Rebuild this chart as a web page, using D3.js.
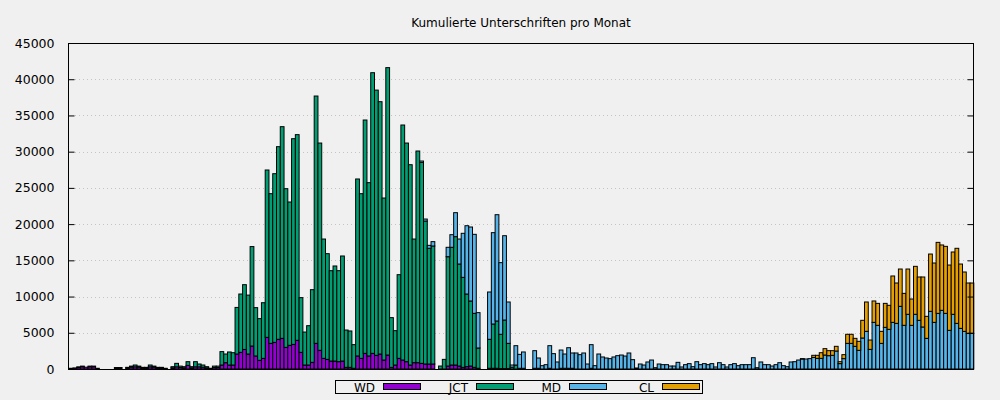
<!DOCTYPE html>
<html><head><meta charset="utf-8">
<script src="https://cdn.jsdelivr.net/npm/d3@7"></script>
<style>body{margin:0;background:#f0f0f0;} svg{display:block;font-family:"DejaVu Sans",sans-serif;}</style>
</head><body><svg id="c" width="1000" height="400"></svg>
<script>
const title = "Kumulierte Unterschriften pro Monat";
const seriesNames = ["WD","JCT","MD","CL"];
const seriesColors = ["#9400d3","#009e73","#56b4e9","#e69f00"];
const yTicks = [0,5000,10000,15000,20000,25000,30000,35000,40000,45000];

const wd = [
100,150,200,300,250,300,300,100,0,0, 0,0,150,150,0,150,250,300,250,150,
150,300,250,150,150,50,0,150,300,200, 150,500,150,300,300,250,150,50,200,200,
550,870,550,550,2070,2300,2700,2070,3170,1800, 1200,1470,4370,3540,3680,4100,4230,2990,3270,3400,
3960,2300,550,550,920,3540,2580,1470,1330,1100, 1100,1010,1100,230,230,100,1800,1470,2160,1800,
2160,1890,2070,1240,1930,230,550,1470,1240,1010, 550,870,870,780,690,690,690,0,0,0,
410,550,550,410,230,320,410,230,100,0, 0,100,100,100,50,50,50,0,0,0,
0,0,0,0,0,0,0,0,0,0, 0,0,0,0,0,0,0,0,0,0,
0,0,0,0,0,0,0,0,0,0, 0,0,0,0,0,0,0,0,0,0,
0,0,0,0,0,0,0,0,0,0, 0,0,0,0,0,0,0,0,0,0,
0,0,0,0,0,0,0,0,0,0, 0,0,0,0,0,0,0,0,0,0,
0,0,0,0,0,0,0,0,0,0, 0,0,0,0,0,0,0,0,0,0,
0,0,0,0,0,0,0,0,0,0, 0,0,0,0,0,0,0,0,0,0
];
const jct = [
0,0,100,100,0,100,100,0,0,0, 0,0,50,50,0,80,150,250,150,80,
80,250,150,80,80,50,0,170,480,200, 170,510,170,710,390,300,170,50,200,200,
1850,1200,1800,1700,6430,8050,8940,8130,13730,6670, 5750,7680,23100,20660,23280,26590,29220,21900,19780,28390,
28390,7550,4550,5430,10030,34140,28610,16470,14590,12470, 13120,12560,14500,5150,5020,3260,24430,22730,32210,23920,
38740,36610,34830,22360,39670,6860,4740,11550,32440,30180, 27650,17070,29220,27730,19730,15970,16290,0,410,1330,
15090,16250,17720,14080,12420,10030,8980,7450,2800,0, 0,4000,6110,6530,4740,6710,3490,250,550,100,
100,0,0,100,100,0,0,100,0,0, 100,100,100,100,0,0,0,0,100,0,
0,0,0,0,0,0,0,0,0,0, 0,0,0,0,0,0,0,0,0,0,
0,0,0,0,0,0,0,0,0,0, 0,0,0,0,0,0,0,0,0,0,
0,0,0,0,0,0,0,0,0,0, 0,0,0,0,0,0,0,0,0,0,
0,0,0,0,0,0,0,0,0,0, 0,0,0,0,0,0,0,0,0,0,
0,0,0,0,0,0,0,0,0,0, 0,0,0,0,0,0,0,0,0,0
];
const md = [
0,0,0,0,0,0,0,0,0,0, 0,0,0,0,0,0,0,0,0,0,
0,0,0,0,0,0,0,0,0,0, 0,0,0,0,0,0,0,0,0,0,
0,0,0,0,0,0,0,0,0,0, 0,0,0,0,0,0,0,0,0,0,
0,0,0,0,0,0,0,0,0,0, 0,0,0,0,0,0,0,0,0,0,
0,0,0,0,0,0,0,0,0,0, 0,0,0,200,280,410,600,0,0,0,
1300,1740,3310,3450,6080,9430,10210,10910,4880,0, 0,6530,12610,14670,9890,11640,5710,300,2670,1920,
2250,0,0,2430,1420,460,600,3120,2120,970, 2520,1970,2840,2110,2210,1980,2210,690,3260,460,
2070,1660,1520,1430,1660,1840,1930,1790,2210,1290, 140,690,550,970,1240,180,690,600,600,410,
410,920,280,600,740,320,1010,600,740,600, 740,280,870,600,280,600,740,460,600,600,
600,1560,180,970,600,600,410,600,870,460, 320,970,1010,1240,1380,1380,1430,1600,1470,1470,
1930,1840,1890,2480,740,1430,3540,3540,3130,2580, 4280,5200,2710,6440,6030,3540,5750,5480,6440,6300,
8650,6030,7550,6030,7550,6720,5800,4230,7960,6440, 7680,8100,7680,5340,7550,6300,5610,5200,4920,4920
];
const cl = [
0,0,0,0,0,0,0,0,0,0, 0,0,0,0,0,0,0,0,0,0,
0,0,0,0,0,0,0,0,0,0, 0,0,0,0,0,0,0,0,0,0,
0,0,0,0,0,0,0,0,0,0, 0,0,0,0,0,0,0,0,0,0,
0,0,0,0,0,0,0,0,0,0, 0,0,0,0,0,0,0,0,0,0,
0,0,0,0,0,0,0,0,0,0, 0,0,0,0,0,0,0,0,0,0,
0,0,0,0,0,0,0,0,0,0, 0,0,0,0,0,0,0,0,0,0,
0,0,0,0,0,0,0,0,0,0, 0,0,0,0,0,0,0,0,0,0,
0,0,0,0,0,0,0,0,0,0, 0,0,0,0,0,0,0,0,0,0,
0,0,0,0,0,0,0,0,0,0, 0,0,0,0,0,0,0,0,0,0,
0,0,0,0,0,0,0,0,0,0, 0,0,0,0,50,0,0,290,420,780,
880,690,640,650,270,550,1250,1250,1100,1240, 2440,4050,1290,2950,3030,1660,3310,3310,6400,5570,
5150,4410,6250,3630,6620,5980,6900,3040,7910,8190, 9800,9020,9250,9010,8600,10360,8880,8190,6950,6950
];
const months = d3.range(wd.length);

const svg = d3.select("#c");
const L = 68, R = 974, T = 43, B = 369;
const x = d3.scaleBand().domain(months).range([L + 1, R]).paddingInner(0).paddingOuter(0.05);
const y = d3.scaleLinear().domain([0, 45000]).range([B, T]);

svg.append("rect").attr("width",1000).attr("height",400).attr("fill","#f0f0f0");

// title
svg.append("text").attr("x",(L+R)/2).attr("y",27).attr("text-anchor","middle")
  .attr("font-size",12).attr("fill","#000").text(title);

// grid
svg.append("g").selectAll("line").data(yTicks.filter(t=>t>0 && t<45000)).join("line")
  .attr("x1",L+7).attr("x2",R-5).attr("y1",d=>Math.round(y(d))+0.5).attr("y2",d=>Math.round(y(d))+0.5)
  .attr("stroke","#c4c4c4").attr("stroke-width",1).attr("stroke-dasharray","1,3");

// stacked bars
const table = months.map(i => ({i, WD: wd[i], JCT: jct[i], MD: md[i], CL: cl[i]}));
const stack = d3.stack().keys(seriesNames)(table);
const gBars = svg.append("g");
stack.forEach((layer, k) => {
  gBars.append("g").attr("fill", seriesColors[k]).attr("stroke","#000").attr("stroke-width",1)
    .selectAll("rect").data(layer.filter(d => d[1] - d[0] > 0)).join("rect")
    .attr("x", d => x(d.data.i))
    .attr("width", x.step())
    .attr("y", d => y(d[1]))
    .attr("height", d => Math.max(0, y(d[0]) - y(d[1])));
});

// axes frame
svg.append("rect").attr("x",L+0.5).attr("y",T+0.5).attr("width",R-L-1).attr("height",B-T)
  .attr("fill","none").attr("stroke","#000").attr("stroke-width",1);

const yAxisL = d3.axisLeft(y).tickValues(yTicks).tickSize(-6).tickPadding(14).tickFormat(d3.format("d"));
const gL = svg.append("g").attr("transform",`translate(${L+0.5},0)`).call(yAxisL);
gL.select(".domain").remove();
gL.selectAll("text").attr("font-size",12.5).attr("font-family","DejaVu Sans, sans-serif").attr("fill","#000");
gL.selectAll("line").attr("stroke","#000");
const yAxisR = d3.axisRight(y).tickValues(yTicks).tickSize(-6).tickFormat("");
const gR = svg.append("g").attr("transform",`translate(${R-0.5},0)`).call(yAxisR);
gR.select(".domain").remove();
gR.selectAll("line").attr("stroke","#000");

// legend
const lg = svg.append("g");
lg.append("rect").attr("x",335.5).attr("y",380.5).attr("width",367).attr("height",13)
  .attr("fill","none").attr("stroke","#000");
seriesNames.forEach((n, k) => {
  const sx = 383 + k * 93;
  lg.append("text").attr("x", sx - 8).attr("y", 391.5).attr("text-anchor","end")
    .attr("font-size",12).text(n);
  lg.append("rect").attr("x", sx + 0.5).attr("y", 383.5).attr("width", 37).attr("height", 6)
    .attr("fill", seriesColors[k]).attr("stroke","#000");
});
</script></body></html>
